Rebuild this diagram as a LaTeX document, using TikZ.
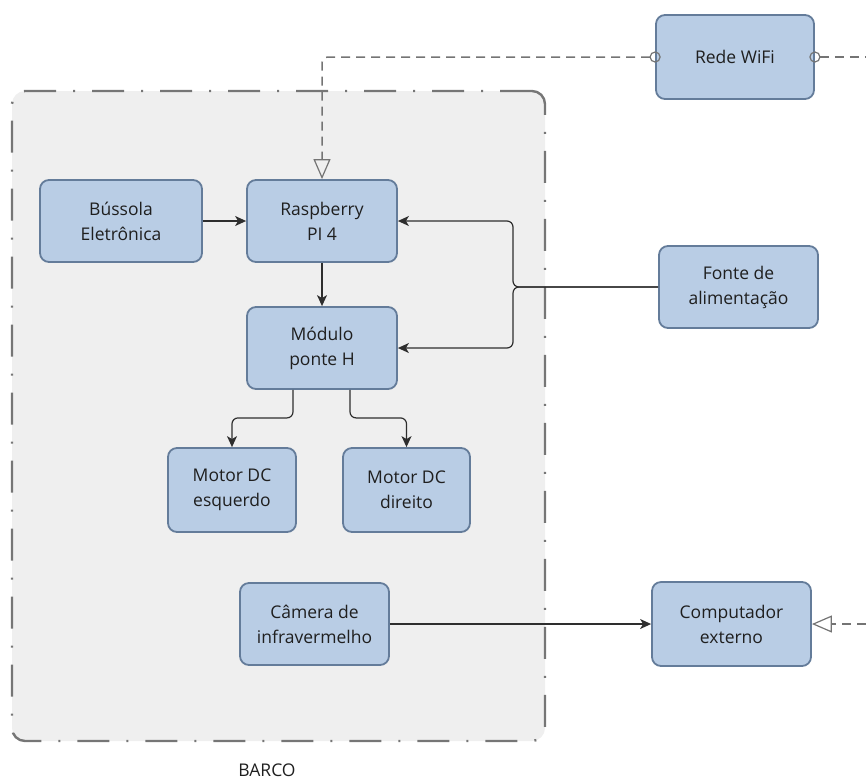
\documentclass[tikz,border=0pt]{standalone}
\usepackage{fontspec}
\setmainfont{Open Sans}
\usetikzlibrary{arrows.meta}
\definecolor{boxfill}{HTML}{B9CDE5}
\definecolor{boxline}{HTML}{647C9A}
\definecolor{contfill}{HTML}{EFEFEF}
\definecolor{contline}{HTML}{767676}
\definecolor{dashcol}{HTML}{747474}
\begin{document}
\begin{tikzpicture}[x=1pt,y=-1pt,
  blk/.style={draw=boxline, fill=boxfill, line width=1.8pt, rounded corners=9pt,
    align=center, font=\fontsize{17.5}{25}\selectfont, text=black!88, inner sep=0pt},
  cont/.style={draw=contline, fill=contfill, line width=2.4pt, rounded corners=13pt,
    dash pattern=on 32pt off 17pt on 2pt off 17pt, inner sep=0pt},
  conn/.style={draw=black!82, line width=1.2pt, -{Stealth[length=11pt,width=10pt,inset=3pt]}},
  dline/.style={draw=dashcol, line width=1.5pt, dash pattern=on 9pt off 6pt},
  ring/.style={draw=dashcol, line width=1.2pt},
  opentri/.style={-{Triangle[open,length=20pt,width=17pt,line width=1.2pt]}}
]
\useasboundingbox (0,0) rectangle (866,780);
% container
\node[cont, minimum width=533pt, minimum height=650pt] (barco) at (278.5,416) {};
\node[font=\fontsize{17.5}{20}\selectfont, text=black!88] (barcolbl) at (267,770) {BARCO};
% blocks
\node[blk, minimum width=158pt, minimum height=84pt] (wifi) at (735,57) {Rede WiFi};
\node[blk, minimum width=162pt, minimum height=82pt] (bus) at (121,221) {Bússola\\Eletrônica};
\node[blk, minimum width=150pt, minimum height=82pt] (rasp) at (322,221) {Raspberry\\PI 4};
\node[blk, minimum width=150pt, minimum height=82pt] (mod) at (322,348) {Módulo\\ponte H};
\node[blk, minimum width=128pt, minimum height=84pt] (mL) at (232,490) {Motor DC\\esquerdo};
\node[blk, minimum width=127pt, minimum height=84pt] (mR) at (406.5,490) {Motor DC\\direito};
\node[blk, minimum width=149pt, minimum height=82pt] (cam) at (314.5,624) {Câmera de\\infravermelho};
\node[blk, minimum width=159pt, minimum height=82pt] (fonte) at (738.5,287) {Fonte de\\alimentação};
\node[blk, minimum width=159pt, minimum height=84pt] (comp) at (731.5,624) {Computador\\externo};
% solid connectors
\draw[conn] (bus) -- (rasp);
\draw[conn] (rasp) -- (mod);
\draw[conn, rounded corners=6pt] ([xshift=-29pt]mod.south) -- ++(0,28) -| (mL.north);
\draw[conn, rounded corners=6pt] ([xshift=28pt]mod.south) -- ++(0,28) -| (mR.north);
\coordinate (jn) at (513,287);
\draw[conn, rounded corners=6pt] (fonte.west) -- (jn) |- (rasp.east);
\draw[conn, rounded corners=6pt] (fonte.west) -- (jn) |- (mod.east);
\draw[conn] (cam.east) -- (comp.west);
% dashed connectors
\coordinate (wifiout) at (866,57);
\coordinate (compin) at (866,624);
\draw[ring] (wifi.west) circle[radius=5pt];
\draw[ring] (wifi.east) circle[radius=5pt];
\draw[dline, opentri, rounded corners=6pt] ([xshift=-5pt]wifi.west) -| (rasp.north);
\draw[dline] ([xshift=5pt]wifi.east) -- (wifiout);
\draw[dline, opentri] (compin) -- (comp.east);
\end{tikzpicture}
\end{document}
